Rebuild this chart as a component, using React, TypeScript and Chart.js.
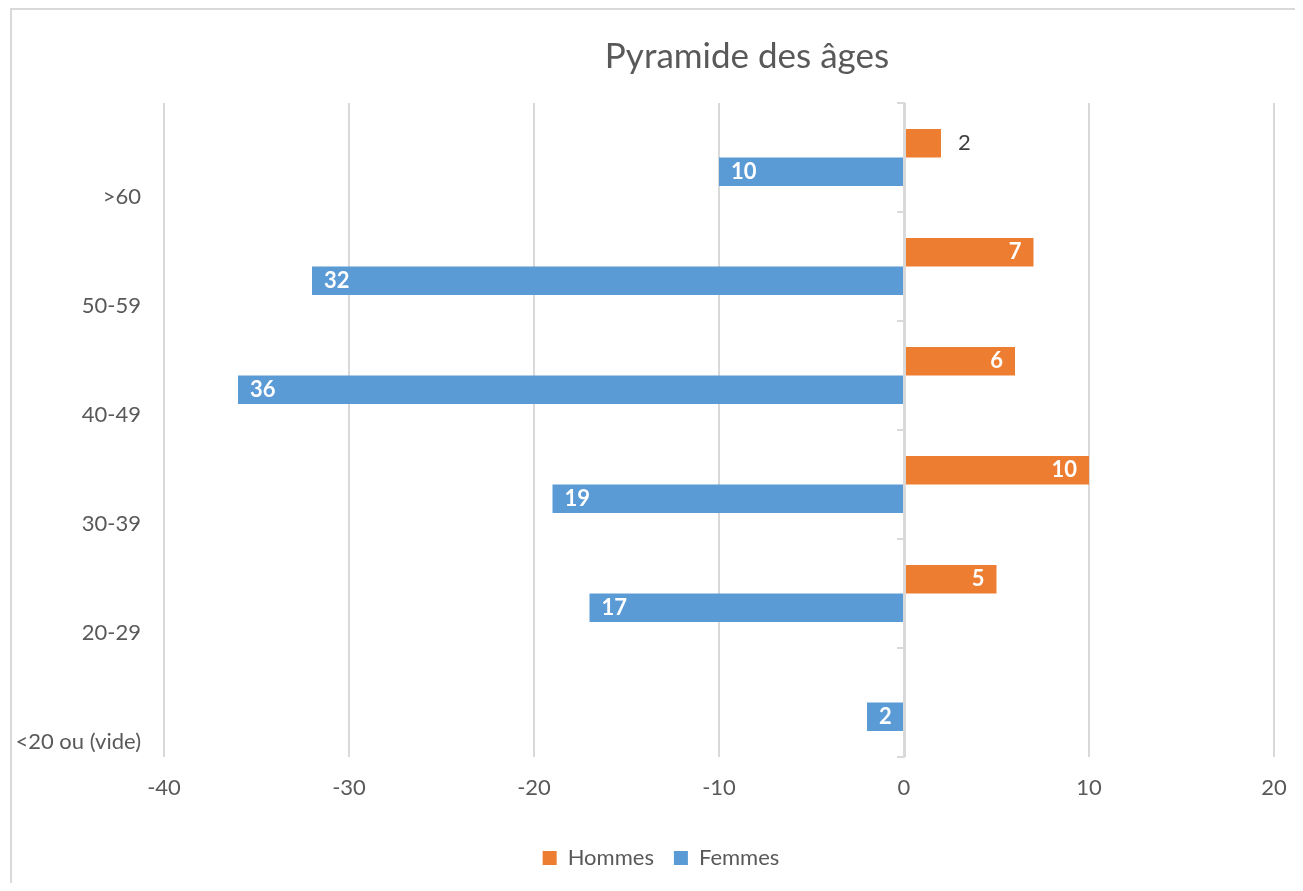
import React, { useEffect, useRef } from "react";
import { Chart, registerables } from "chart.js";

Chart.register(...registerables);

const categories = [">60", "50-59", "40-49", "30-39", "20-29", "<20 ou (vide)"];
const hommes: (number | null)[] = [2, 7, 6, 10, 5, null];
const femmes: number[] = [-10, -32, -36, -19, -17, -2];
const xMin = -40;
const xMax = 20;
const xStep = 10;
const chartTitle = "Pyramide des âges";

const FONT = "Lato, 'Open Sans', sans-serif";
const TEXT = "#595959";
const GRID = "#d9d9d9";

const overlayPlugin = {
  id: "overlay",
  afterLayout(chart: any) {
    // nudge the legend slightly right, as in the reference
    if (chart.legend) chart.legend.left += 36;
  },
  afterDraw(chart: any) {
    const { ctx, chartArea } = chart;
    ctx.save();
    ctx.font = `normal 35px ${FONT}`;
    ctx.fillStyle = TEXT;
    ctx.textAlign = "center";
    ctx.textBaseline = "middle";
    ctx.fillText(chartTitle, (chartArea.left + chartArea.right) / 2 + 28, 47);
    ctx.restore();
  },
  afterDatasetsDraw(chart: any) {
    const { ctx, chartArea, scales } = chart;
    const x0 = scales.x.getPixelForValue(0);
    ctx.save();
    // zero axis with tick marks at band boundaries
    ctx.strokeStyle = GRID;
    ctx.lineWidth = 2;
    ctx.beginPath();
    ctx.moveTo(x0 + 1, chartArea.top);
    ctx.lineTo(x0 + 1, chartArea.bottom);
    for (let i = 0; i <= categories.length; i++) {
      const y = scales.y.getPixelForValue(i - 0.5);
      ctx.moveTo(x0 - 7, y);
      ctx.lineTo(x0 + 1, y);
    }
    ctx.stroke();

    // data labels
    const pad = 12;
    chart.data.datasets.forEach((ds: any, di: number) => {
      const meta = chart.getDatasetMeta(di);
      meta.data.forEach((bar: any, j: number) => {
        const v = ds.data[j];
        if (v === null || v === undefined || v === 0) return;
        const txt = String(Math.abs(v));
        const outside = di === 0 && Math.abs(v) <= 2;
        ctx.textBaseline = "middle";
        if (outside) {
          ctx.font = `normal 22px ${FONT}`;
          ctx.fillStyle = "#404040";
          ctx.textAlign = "left";
          ctx.fillText(txt, bar.x + 17, bar.y);
        } else {
          ctx.font = `bold 22px ${FONT}`;
          ctx.fillStyle = "#ffffff";
          if (v > 0) {
            ctx.textAlign = "right";
            ctx.fillText(txt, bar.x - pad, bar.y);
          } else {
            ctx.textAlign = "left";
            ctx.fillText(txt, bar.x + pad, bar.y);
          }
        }
      });
    });
    ctx.restore();
  },
};

export default function App() {
  const ref = useRef<HTMLCanvasElement | null>(null);

  useEffect(() => {
    if (!ref.current) return;
    const chart = new Chart(ref.current, {
      type: "bar",
      data: {
        labels: categories,
        datasets: [
          {
            label: "Hommes",
            data: hommes,
            backgroundColor: "#ED7D31",
            categoryPercentage: 0.523,
            barPercentage: 1.0,
          },
          {
            label: "Femmes",
            data: femmes,
            backgroundColor: "#5B9BD5",
            categoryPercentage: 0.523,
            barPercentage: 1.0,
          },
        ],
      },
      options: {
        indexAxis: "y",
        responsive: false,
        animation: false,
        layout: { padding: { left: 0, right: 27, top: 93, bottom: 4 } },
        scales: {
          x: {
            min: xMin,
            max: xMax,
            ticks: {
              stepSize: xStep,
              color: TEXT,
              font: { family: FONT, size: 22 },
              padding: 18,
            },
            grid: { color: GRID, lineWidth: 2, drawTicks: false },
            border: { display: false },
            afterFit: (s: any) => {
              s.height = 70;
              s.paddingLeft = 0;
              s.paddingRight = 0;
            },
          },
          y: {
            ticks: {
              color: TEXT,
              font: { family: FONT, size: 22 },
              padding: 23,
              labelOffset: 39.5,
            },
            grid: { display: false, drawTicks: false },
            border: { display: false },
            afterFit: (s: any) => {
              s.width = 152;
              s.paddingTop = 0;
              s.paddingBottom = 0;
            },
          },
        },
        plugins: {
          title: { display: false },
          legend: {
            position: "bottom",
            labels: {
              color: TEXT,
              font: { family: FONT, size: 22 },
              boxWidth: 14,
              boxHeight: 14,
              padding: 20,
            },
          },
          tooltip: { enabled: false },
        },
      },
      plugins: [overlayPlugin],
    } as any);
    return () => chart.destroy();
  }, []);

  return (
    <div
      style={{
        marginLeft: 2,
        width: 1293,
        height: 875,
        boxSizing: "border-box",
        borderTop: `2px solid ${GRID}`,
        borderLeft: `2px solid ${GRID}`,
        borderRight: `2px solid ${GRID}`,
        background: "#fff",
      }}
    >
      <canvas ref={ref} width={1289} height={873} style={{ display: "block" }} />
    </div>
  );
}
